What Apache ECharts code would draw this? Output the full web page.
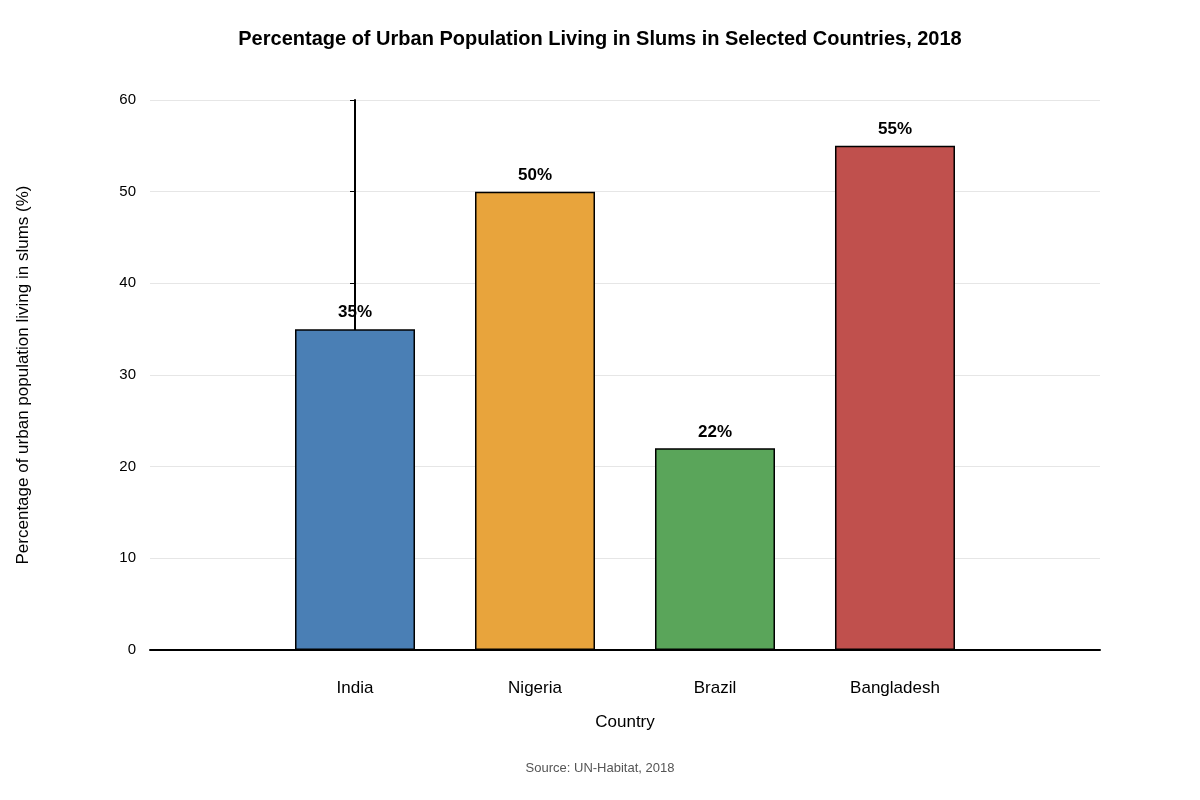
<!DOCTYPE html>
<html>
<head>
<meta charset="utf-8">
<script src="https://cdn.jsdelivr.net/npm/echarts@6/dist/echarts.min.js"></script>
<style>html,body{margin:0;padding:0;background:#fff;}#chart{width:1200px;height:800px;}</style>
</head>
<body>
<div id="chart"></div>
<script>
var countries = ['India', 'Nigeria', 'Brazil', 'Bangladesh'];
var values = [35, 50, 22, 55];
var colors = ['#4a7fb5', '#e8a43c', '#5aa55a', '#c0504d'];

var chart = echarts.init(document.getElementById('chart'));
var font = 'Liberation Sans, Arial, sans-serif';
var option = {
    animation: false,
    textStyle: {fontFamily: font},
    title: [
        {text: 'Percentage of Urban Population Living in Slums in Selected Countries, 2018', left: 'center', top: 24,
         textStyle: {fontSize: 20, fontWeight: 'bold', color: '#000', fontFamily: font}},
        {text: 'Source: UN-Habitat, 2018', left: 'center', top: 757,
         textStyle: {fontSize: 13, fontWeight: 'normal', color: '#555', fontFamily: font}}
    ],
    grid: {left: 150, right: 100, top: 100, bottom: 150},
    xAxis: {
        type: 'value',
        min: -1.139, max: 4.139,
        name: 'Country', nameLocation: 'middle', nameGap: 64,
        nameTextStyle: {fontSize: 17, color: '#000'},
        axisLine: {show: true, lineStyle: {color: '#000', width: 2}},
        axisTick: {show: false},
        splitLine: {show: false},
        axisLabel: {
            customValues: [0, 1, 2, 3], margin: 30, fontSize: 17, color: '#000',
            formatter: function (v) { return countries[Math.round(v)]; }
        }
    },
    yAxis: {
        type: 'value', min: 0, max: 60, interval: 10,
        name: 'Percentage of urban population living in slums (%)', nameLocation: 'middle', nameGap: 118,
        nameTextStyle: {fontSize: 17, color: '#000'},
        axisLine: {show: true, lineStyle: {color: '#000', width: 2}},
        axisTick: {show: true, length: 5, lineStyle: {color: '#000'}},
        axisLabel: {fontSize: 15, color: '#000', margin: 14},
        splitLine: {lineStyle: {color: '#e6e6e6'}}
    },
    series: [{
        type: 'bar',
        barWidth: 120,
        data: values.map(function (v, i) {
            return {value: [i, v], itemStyle: {color: colors[i]}};
        }),
        itemStyle: {borderColor: '#000', borderWidth: 1.5},
        label: {show: true, position: 'top', distance: 8, fontSize: 17, fontWeight: 'bold', color: '#000',
            formatter: function (p) { return p.value[1] + '%'; }}
    }]
};
chart.setOption(option);
</script>
</body>
</html>
